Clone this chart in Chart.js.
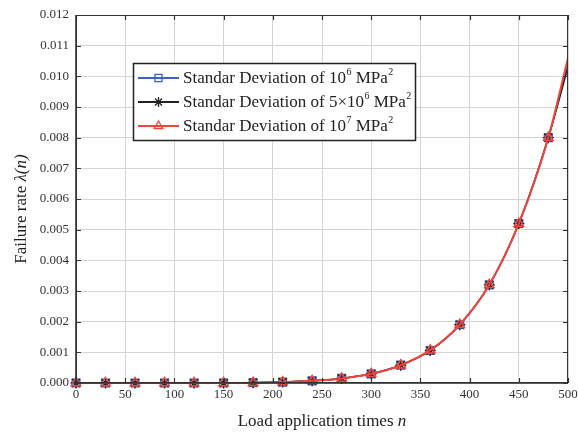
<!DOCTYPE html>
<html>
<head>
<meta charset="utf-8">
<script src="https://cdn.jsdelivr.net/npm/chart.js@4.4.1/dist/chart.umd.min.js"></script>
<style>
    html, body { margin: 0; padding: 0; background: #fff; }
    #wrap { width: 578px; height: 435px; }
</style>
</head>
<body>
<div id="wrap"><canvas id="failure"></canvas></div>
<script>
// load application times n (markers every 30, line runs to 500)
const loadTimes = [0, 30, 60, 90, 120, 150, 180, 210, 240, 270, 300, 330, 360, 390, 420, 450, 480, 500]

// failure rate for each standard deviation
const sd1e6 = [0, 0, 0, 0, 0, 0, 0.00001, 0.00003, 0.00007, 0.00015, 0.00030, 0.00058, 0.00106, 0.0019, 0.0032, 0.0052, 0.0080, 0.0104]
const sd5e6 = [0, 0, 0, 0, 0, 0, 0.00001, 0.00003, 0.00007, 0.00015, 0.00030, 0.00058, 0.00106, 0.0019, 0.0032, 0.0052, 0.0080, 0.0103]
const sd1e7 = [0, 0, 0, 0, 0, 0, 0.00001, 0.00003, 0.00007, 0.00015, 0.00030, 0.00058, 0.00107, 0.0019, 0.0032, 0.0052, 0.0080, 0.0106]

const xTicks = [0, 50, 100, 150, 200, 250, 300, 350, 400, 450, 500]
const yTicks = [0, 0.001, 0.002, 0.003, 0.004, 0.005, 0.006, 0.007, 0.008, 0.009, 0.010, 0.011, 0.012]

const legendItems = [
    { base: 'Standar Deviation of 10', sup: '6', tail: ' MPa', color: '#3a62c8', style: 'rect' },
    { base: 'Standar Deviation of 5\u00d710', sup: '6', tail: ' MPa', color: '#222', style: 'star' },
    { base: 'Standar Deviation of 10', sup: '7', tail: ' MPa', color: '#f0453a', style: 'triangle' }
]

const serif = '"Liberation Serif", "Times New Roman", serif'

function toPoints(values) {
    return values.map((v, i) => ({ x: loadTimes[i], y: v }))
}

function dataset(label, values, color, style, width, order) {
    return {
        label: label,
        data: toPoints(values),
        borderColor: color,
        backgroundColor: 'rgba(0,0,0,0)',
        borderWidth: width,
        pointStyle: style,
        pointRadius: ctx => ctx.dataIndex === loadTimes.length - 1 ? 0 : 5.5,
        pointBorderWidth: 1.4,
        pointBorderColor: color,
        cubicInterpolationMode: 'monotone',
        clip: { left: 8, right: 0, top: 0, bottom: 8 },
        order: order
    }
}

// frame, inward ticks, axis titles and the boxed legend
const decorations = {
    id: 'decorations',
    afterDraw(chart) {
        const ctx = chart.ctx
        const a = chart.chartArea
        const xs = chart.scales.x
        const ys = chart.scales.y
        ctx.save()

        ctx.strokeStyle = '#333'
        ctx.lineWidth = 1
        ctx.strokeRect(a.left + 0.5, a.top + 0.5, a.right - a.left - 1, a.bottom - a.top - 1)
        ctx.lineWidth = 1.6
        ctx.beginPath()
        ctx.moveTo(a.left, a.top)
        ctx.lineTo(a.left, a.bottom)
        ctx.lineTo(a.right, a.bottom)
        ctx.stroke()

        ctx.lineWidth = 1.2
        ctx.beginPath()
        for (const v of yTicks) {
            const py = Math.round(ys.getPixelForValue(v)) + 0.5
            ctx.moveTo(a.left, py); ctx.lineTo(a.left + 5, py)
            ctx.moveTo(a.right, py); ctx.lineTo(a.right - 5, py)
        }
        for (const v of xTicks) {
            const px = Math.round(xs.getPixelForValue(v)) + 0.5
            ctx.moveTo(px, a.bottom); ctx.lineTo(px, a.bottom - 5)
            ctx.moveTo(px, a.top); ctx.lineTo(px, a.top + 5)
        }
        ctx.stroke()

        // x title
        ctx.fillStyle = '#222'
        ctx.textBaseline = 'alphabetic'
        const xt = 'Load application times '
        ctx.font = '17px ' + serif
        const w1 = ctx.measureText(xt).width
        ctx.font = 'italic 17px ' + serif
        const w2 = ctx.measureText('n').width
        let sx = (a.left + a.right) / 2 - (w1 + w2) / 2
        ctx.font = '17px ' + serif
        ctx.fillText(xt, sx, 426)
        ctx.font = 'italic 17px ' + serif
        ctx.fillText('n', sx + w1, 426)

        // y title
        ctx.save()
        ctx.translate(26, 209)
        ctx.rotate(-Math.PI / 2)
        const yt = 'Failure rate '
        ctx.font = '17px ' + serif
        const w3 = ctx.measureText(yt).width
        ctx.font = 'italic 17px ' + serif
        const w4 = ctx.measureText('\u03bb(n)').width
        sx = -(w3 + w4) / 2
        ctx.font = '17px ' + serif
        ctx.fillText(yt, sx, 0)
        ctx.font = 'italic 17px ' + serif
        ctx.fillText('\u03bb(n)', sx + w3, 0)
        ctx.restore()

        // legend box
        const lx = 133, ly = 63, lw = 282, lh = 77
        ctx.fillStyle = '#fff'
        ctx.fillRect(lx, ly, lw, lh)
        ctx.strokeStyle = '#222'
        ctx.lineWidth = 1.5
        ctx.strokeRect(lx + 0.5, ly + 0.5, lw, lh)
        legendItems.forEach((item, i) => {
            const cy = 78 + i * 24
            ctx.strokeStyle = item.color
            ctx.lineWidth = 1.8
            ctx.beginPath()
            ctx.moveTo(138, cy); ctx.lineTo(179, cy)
            ctx.stroke()
            ctx.lineWidth = 1.3
            ctx.fillStyle = 'rgba(0,0,0,0)'
            Chart.helpers.drawPoint(ctx, { pointStyle: item.style, radius: 5, borderWidth: 1.3 }, 158.5, cy)
            ctx.fillStyle = '#222'
            ctx.font = '17px ' + serif
            ctx.textBaseline = 'middle'
            let tx = 183
            ctx.fillText(item.base, tx, cy + 1)
            tx += ctx.measureText(item.base).width + 0.5
            ctx.font = '10px ' + serif
            ctx.fillText(item.sup, tx, cy - 6)
            tx += ctx.measureText(item.sup).width
            ctx.font = '17px ' + serif
            ctx.fillText(item.tail, tx, cy + 1)
            tx += ctx.measureText(item.tail).width + 0.5
            ctx.font = '10px ' + serif
            ctx.fillText('2', tx, cy - 6)
        })
        ctx.restore()
    }
}

Chart.register(decorations)

createChart(
    document.getElementById('failure').getContext('2d'),
    {
        datasets: [
            dataset('Standar Deviation of 10^6 MPa^2', sd1e6, '#3a62c8', 'rect', 1.5, 2),
            dataset('Standar Deviation of 5x10^6 MPa^2', sd5e6, '#222', 'star', 1.5, 1),
            dataset('Standar Deviation of 10^7 MPa^2', sd1e7, '#f0453a', 'triangle', 2, 0)
        ]
    },
    'line',
    {
        responsive: true,
        maintainAspectRatio: false,
        animation: false,
        layout: {
            padding: { left: 0, right: 10, top: 15, bottom: 0 }
        },
        plugins: {
            legend: { display: false },
            tooltip: { enabled: false },
            title: { display: false }
        },
        scales: {
            x: {
                type: 'linear',
                min: 0,
                max: 500,
                afterFit: scale => {
                    scale.height = 52
                    scale.paddingLeft = 0
                    scale.paddingRight = 0
                },
                afterBuildTicks: scale => { scale.ticks = xTicks.map(v => ({ value: v })) },
                grid: { color: '#d4d4d4', drawTicks: false },
                border: { display: false },
                ticks: {
                    color: '#333',
                    padding: 4,
                    maxRotation: 0,
                    font: { family: serif, size: 13 }
                }
            },
            y: {
                min: 0,
                max: 0.012,
                afterFit: scale => {
                    scale.width = 76
                    scale.paddingTop = 0
                    scale.paddingBottom = 0
                },
                afterBuildTicks: scale => { scale.ticks = yTicks.map(v => ({ value: v })) },
                grid: { color: '#d4d4d4', drawTicks: false },
                border: { display: false },
                ticks: {
                    color: '#333',
                    padding: 7,
                    font: { family: serif, size: 13 },
                    callback: v => v.toFixed(3)
                }
            }
        }
    }
)

function createChart(ctx, data, type, options = {}) {
    new Chart(ctx, {
        type: type,
        data: data,
        options: options
    });
}
</script>
</body>
</html>
